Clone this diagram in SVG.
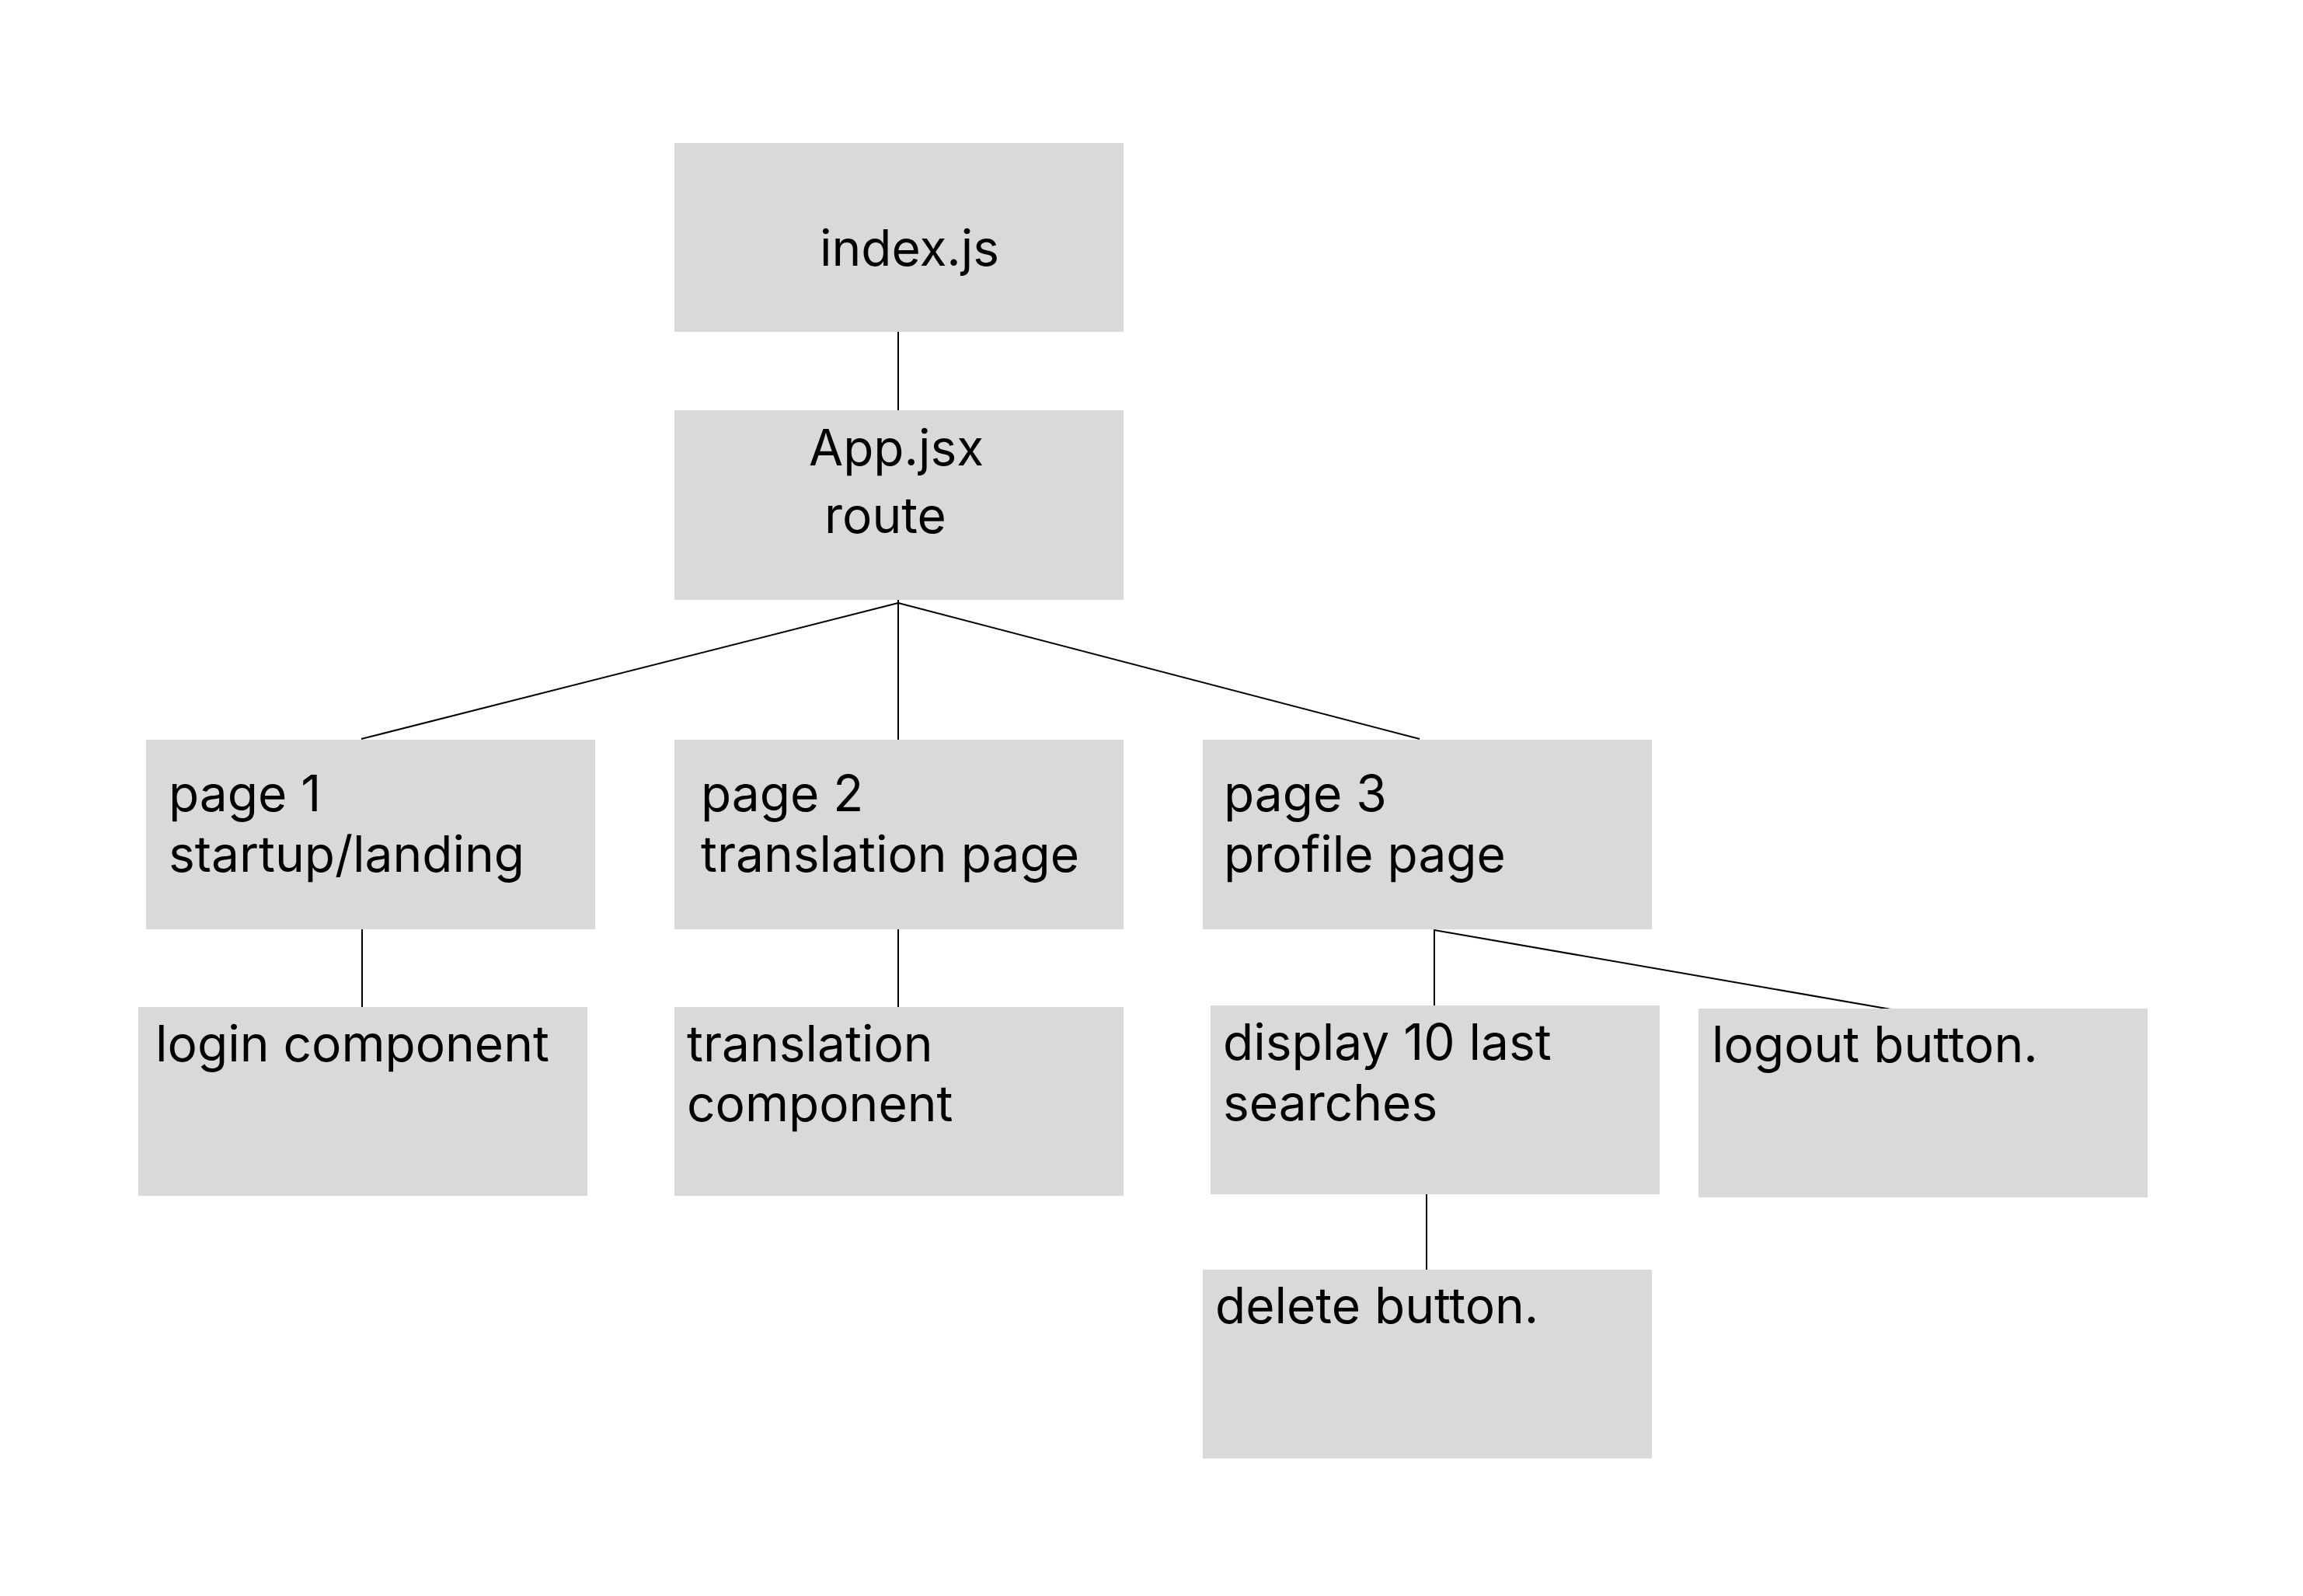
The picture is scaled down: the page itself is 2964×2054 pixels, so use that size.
<svg xmlns="http://www.w3.org/2000/svg" width="2964" height="2054" viewBox="0 0 2964 2054">
<style>
.box{fill:#D9D9D9}
.t{font-family:Inter,"Noto Sans","Liberation Sans",sans-serif;font-size:64px;fill:#000}
.c{stroke:#000;stroke-width:2;fill:none}
</style>
<rect width="2964" height="2054" fill="#fff"/>
<g id="connectors">
<line class="c" x1="1156" y1="427" x2="1156" y2="532"/>
<line class="c" x1="1156" y1="768" x2="1156" y2="952"/>
<line class="c" x1="1156" y1="776" x2="465" y2="951"/>
<line class="c" x1="1156" y1="776" x2="1827" y2="951"/>
<line class="c" x1="466" y1="1196" x2="466" y2="1304"/>
<line class="c" x1="1156" y1="1196" x2="1156" y2="1304"/>
<line class="c" x1="1846" y1="1196" x2="1846" y2="1302"/>
<line class="c" x1="1846" y1="1197" x2="2474" y2="1306"/>
<line class="c" x1="1836" y1="1534" x2="1836" y2="1642"/>
</g>
<g id="index"><rect class="box" x="868" y="184" width="578" height="243"/><text class="t" x="1055" y="342">index.js</text></g>
<g id="app"><rect class="box" x="868" y="528" width="578" height="244"/><text class="t" x="1041" y="599">App.jsx</text><text class="t" x="1061" y="686">route</text></g>
<g id="page1"><rect class="box" x="188" y="952" width="578" height="244"/><text class="t" x="217" y="1044">page 1</text><text class="t" x="217" y="1122">startup/landing</text></g>
<g id="page2"><rect class="box" x="868" y="952" width="578" height="244"/><text class="t" x="902" y="1044">page 2</text><text class="t" x="902" y="1122">translation page</text></g>
<g id="page3"><rect class="box" x="1548" y="952" width="578" height="244"/><text class="t" x="1575" y="1044">page 3</text><text class="t" x="1575" y="1122">profile page</text></g>
<g id="login"><rect class="box" x="178" y="1296" width="578" height="243"/><text class="t" x="200" y="1366">login component</text></g>
<g id="translation"><rect class="box" x="868" y="1296" width="578" height="243"/><text class="t" x="884" y="1366">translation</text><text class="t" x="884" y="1443">component</text></g>
<g id="display"><rect class="box" x="1558" y="1294" width="578" height="243"/><text class="t" x="1574" y="1364">display 10 last</text><text class="t" x="1574" y="1442">searches</text></g>
<g id="logout"><rect class="box" x="2186" y="1298" width="578" height="243"/><text class="t" x="2203" y="1367">logout button.</text></g>
<g id="delete"><rect class="box" x="1548" y="1634" width="578" height="243"/><text class="t" x="1564" y="1703">delete button.</text></g>
</svg>
